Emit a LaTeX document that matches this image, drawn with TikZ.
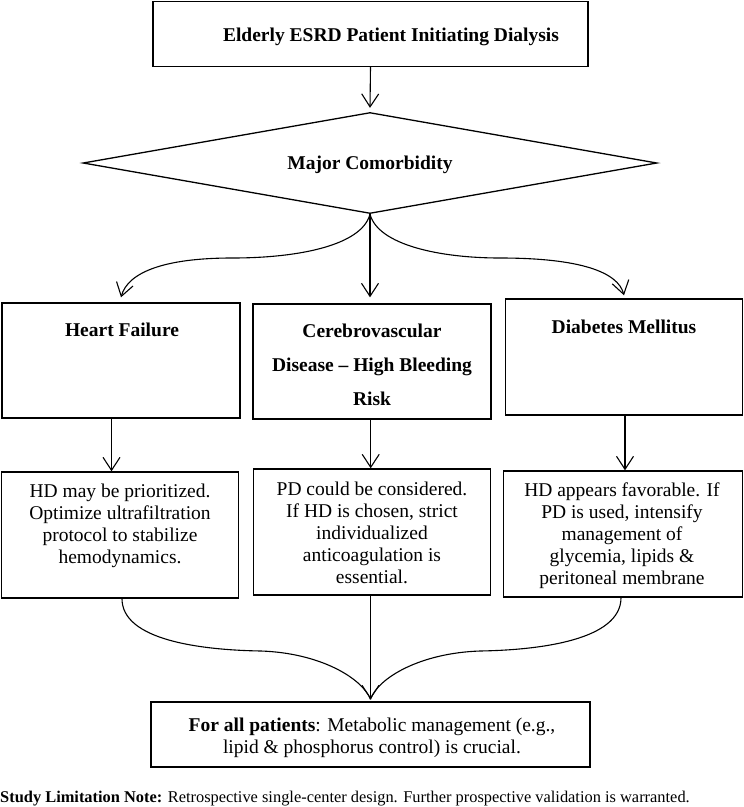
\documentclass[tikz,border=0pt]{standalone}
\usepackage{fontspec}
\setmainfont{Liberation Serif}
\usetikzlibrary{arrows.meta,shapes.geometric}
\begin{document}
\begin{tikzpicture}[x=1pt,y=-1pt,
  box/.style={draw, line width=1.4pt, inner sep=0pt},
  txt/.style={align=center, inner sep=0pt, font=\fontsize{19.5}{22}\selectfont},
  btxt/.style={align=center, inner sep=0pt, font=\fontsize{19.5}{22}\selectfont\bfseries},
  conn/.style={line width=1.1pt},
  arr/.style={line width=1.1pt, -{Straight Barb[length=13pt,width=17pt,line width=1.1pt]}}]
\useasboundingbox (0,0) rectangle (744,807);
% top
\node[box, minimum width=435pt, minimum height=65pt] (top) at (370.5,34) {};
\node[btxt] (topt) at (391,37) {Elderly ESRD Patient Initiating Dialysis};
% diamond
\node[draw, line width=1.3pt, diamond, aspect=5.68, minimum width=574pt, minimum height=101pt, inner sep=0pt] (dia) at (370,163) {};
\node[btxt] (diat) at (370,165) {Major Comorbidity};
% row 1
\node[box, minimum width=238pt, minimum height=115pt] (hf) at (121,360.5) {};
\node[btxt] (hft) at (122,330) {Heart Failure};
\node[box, minimum width=238pt, minimum height=115pt] (cv) at (372,361.5) {};
\node[btxt, font=\fontsize{19.5}{34}\selectfont\bfseries] (cvt) at (372,365) {Cerebrovascular\\Disease -- High Bleeding\\Risk};
\node[box, minimum width=237pt, minimum height=116pt] (dm) at (624,357) {};
\node[btxt] (dmt) at (624,327) {Diabetes Mellitus};
% row 2
\node[box, minimum width=237pt, minimum height=126pt] (hfa) at (120,535) {};
\node[txt] (hfat) at (120,526) {HD may be prioritized.\\Optimize ultrafiltration\\protocol to stabilize\\hemodynamics.};
\node[box, minimum width=237.5pt, minimum height=126pt] (cva) at (372,532) {};
\node[txt] (cvat) at (372,533) {PD could be considered.\\If HD is chosen, strict\\individualized\\anticoagulation is\\essential.};
\node[box, minimum width=239pt, minimum height=126pt] (dma) at (623,534) {};
\node[txt] (dmat) at (622,536) {HD appears favorable. If\\PD is used, intensify\\management of\\glycemia, lipids \&\\peritoneal membrane};
% bottom
\node[box, minimum width=439pt, minimum height=65pt] (fa) at (370.5,734.5) {};
\node[txt] (fat) at (372,738) {\textbf{For all patients}: Metabolic management (e.g.,\\lipid \& phosphorus control) is crucial.};
% note
\node[anchor=west, inner sep=0pt, font=\fontsize{16.4}{18}\selectfont] (note) at (0,799) {\textbf{Study Limitation Note:} Retrospective single-center design. Further prospective validation is warranted.};
% connectors
\draw[arr] (top.south) -- ([yshift=4pt]dia.north);
\draw[arr] (dia.south) .. controls (362,245) and (300,258) .. (232,258) .. controls (165,258) and (128,272) .. ([yshift=5pt]hf.north);
\draw[arr] (dia.south) -- ([yshift=6pt]cv.north -| dia.south);
\draw[arr] (dia.south) .. controls (378,245) and (440,258) .. (500,258) .. controls (580,258) and (618,272) .. ([yshift=3pt]dm.north);
\draw[arr] ([xshift=-9.5pt]hf.south) -- ([xshift=-9.5pt]hf.south |- hfa.north);
\draw[arr] ([xshift=-1.3pt]cv.south) -- ([xshift=-1.3pt]cv.south |- cva.north);
\draw[arr] ([xshift=1pt]dm.south) -- ([xshift=1pt]dm.south |- dma.north);
\draw[conn] ([xshift=2pt]hfa.south) .. controls (122,640) and (200,650) .. (261,651) .. controls (320,653) and (362,678) .. ([yshift=2pt]fa.north);
\draw[conn] ([xshift=-2pt]dma.south) .. controls (621,640) and (540,650) .. (480,651) .. controls (420,653) and (378,678) .. ([yshift=2pt]fa.north);
\draw[arr] (cva.south -| fa.north) -- ([yshift=2pt]fa.north);
\end{tikzpicture}
\end{document}
